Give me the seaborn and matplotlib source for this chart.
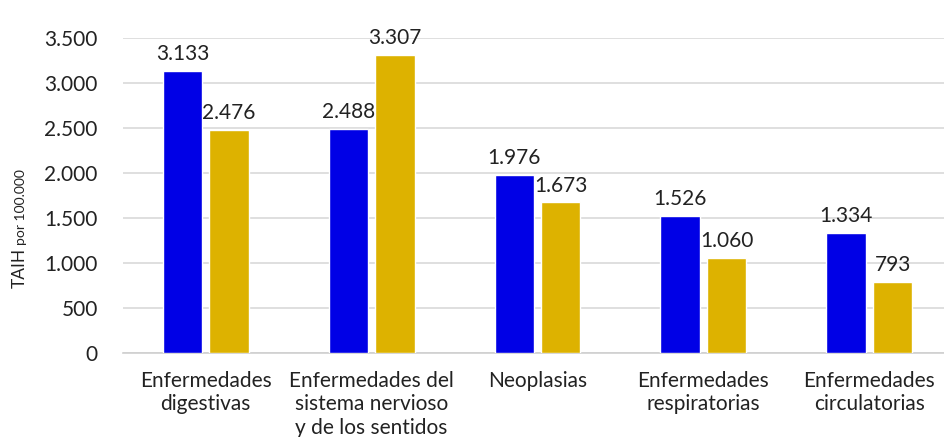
import matplotlib
matplotlib.use("Agg")
import matplotlib.pyplot as plt
import pandas as pd
import seaborn as sns
from matplotlib.ticker import FuncFormatter

categorias = [
    "Enfermedades\ndigestivas",
    "Enfermedades del\nsistema nervioso\ny de los sentidos",
    "Neoplasias",
    "Enfermedades\nrespiratorias",
    "Enfermedades\ncirculatorias",
]
serie_a = [3133, 2488, 1976, 1526, 1334]
serie_b = [2476, 3307, 1673, 1060, 793]
series = ["A", "B"]
colores = {"A": "#0000E6", "B": "#DDB200"}


def miles(v):
    return f"{int(round(v)):,}".replace(",", ".")


df = pd.DataFrame({
    "cat": categorias * 2,
    "valor": serie_a + serie_b,
    "serie": [series[0]] * len(categorias) + [series[1]] * len(categorias),
})

sns.set_style("white")
plt.rcParams["font.family"] = ["Lato", "DejaVu Sans"]

fig = plt.figure(figsize=(9.44, 4.37), dpi=100)
ax = fig.add_axes([0.130, 0.192, 0.870, 0.721])

sns.barplot(data=df, x="cat", y="valor", hue="serie", order=categorias,
            hue_order=series, palette=colores, width=0.56, gap=0.15,
            saturation=1, legend=False, ax=ax, zorder=3)

for cont in ax.containers:
    ax.bar_label(cont, labels=[miles(b.get_height()) for b in cont],
                 padding=5, fontsize=15, color="#222222")

ax.set_ylim(0, 3500)
ax.set_yticks(range(0, 3501, 500))
ax.yaxis.set_major_formatter(FuncFormatter(lambda v, p: miles(v)))
ax.set_xlim(-0.5, 4.45)
ax.grid(axis="y", color="#d9d9d9", lw=1.2, zorder=0)
for s in ["top", "right", "left"]:
    ax.spines[s].set_visible(False)
ax.spines["bottom"].set_color("#cfcfcf")
ax.spines["bottom"].set_linewidth(1.2)
ax.tick_params(axis="both", length=0, labelsize=15, colors="#222222")
ax.tick_params(axis="y", pad=18)
ax.tick_params(axis="x", pad=13)
ax.set_xlabel("")
ax.set_ylabel("")

# etiqueta del eje y en dos tamaños
fig.canvas.draw()
r = fig.canvas.get_renderer()
x_lab = 20 / 944
y0 = (437 - 288) / 437
t1 = fig.text(x_lab, y0, "TAIH", rotation=90, fontsize=12.5,
              ha="center", va="bottom", color="#222222")
h1 = t1.get_window_extent(r).height / 437
fig.text(x_lab + 0.001, y0 + h1 + 0.006, "por 100.000", rotation=90,
         fontsize=10, ha="center", va="bottom", color="#222222")

fig.savefig("out.png", dpi=100)
